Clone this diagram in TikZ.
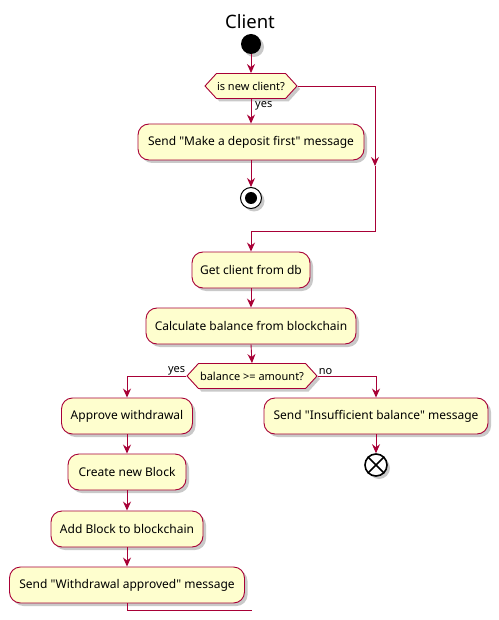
\documentclass[tikz,border=0pt]{standalone}
\usepackage{fontspec}
\setmainfont{Noto Sans}[Ligatures=TeXOff]
\usetikzlibrary{shapes.symbols,shadows,arrows.meta}
\definecolor{umlred}{HTML}{A80036}
\definecolor{umlfill}{HTML}{FEFECE}
\newcommand{\dq}{\char34\relax}
\tikzset{
  shd/.style={drop shadow={shadow xshift=3pt,shadow yshift=-3pt,opacity=0.3,fill=black!70}},
  act/.style={draw=umlred,fill=umlfill,line width=0.9pt,rounded corners=11pt,shd,
    minimum height=36pt,inner xsep=0pt,font=\fontsize{12}{14}\selectfont,text=black},
  dec/.style={signal,signal to=west and east,signal pointer angle=95,draw=umlred,fill=umlfill,
    line width=0.9pt,shd,minimum height=25pt,inner sep=0pt,font=\fontsize{11}{13}\selectfont},
  arr/.style={draw=umlred,line width=0.9pt,-{Stealth[length=9pt,width=8pt,inset=3pt]}},
  ln/.style={draw=umlred,line width=0.9pt},
  lbl/.style={font=\fontsize{11}{13}\selectfont,inner sep=1pt},
}
\begin{document}
\begin{tikzpicture}[x=1pt,y=-1pt]
\useasboundingbox (0,0) rectangle (498,620);
\node[font=\fontsize{18.5}{20}\selectfont] (title) at (250,22) {Client};
\node[circle,fill=black,minimum size=20pt,inner sep=0pt,shd] (start) at (251,44) {};
\node[dec,minimum width=92pt] (d1) at (251,86) {is new client?};
\node[act,minimum width=226pt] (b1) at (251,142) {Send \dq Make a deposit first\dq{} message};
\node[circle,draw=black,fill=white,line width=1pt,minimum size=21pt,inner sep=0pt,shd] (stop) at (251,198) {};
\fill (stop.center) circle (6pt);
\node[act,minimum width=118pt] (b2) at (251,270) {Get client from db};
\node[act,minimum width=210pt] (b3) at (251,326) {Calculate balance from blockchain};
\node[dec,minimum width=130pt] (d2) at (252,376) {balance >= amount?};
\node[act,minimum width=131pt] (a1) at (127,416) {Approve withdrawal};
\node[act,minimum width=118pt] (a2) at (127,472) {Create new Block};
\node[act,minimum width=152pt] (a3) at (127,529) {Add Block to blockchain};
\node[act,minimum width=235pt] (a4) at (127,585) {Send \dq Withdrawal approved\dq{} message};
\node[act,minimum width=224pt] (i1) at (376,416) {Send \dq Insufficient balance\dq{} message};
\node[circle,draw=black,fill=white,line width=1.6pt,minimum size=22pt,inner sep=0pt,shd] (endx) at (376,465) {};
\draw[line width=1.6pt] (endx.north east) -- (endx.south west) (endx.north west) -- (endx.south east);
\coordinate (m1) at (375,166);
\coordinate (j1) at (375,231);
\coordinate (j2) at (251,231);
\coordinate (e1) at (127,610);
\coordinate (e2) at (252,610);
\path[arr] (start) -- (d1.north);
\path[arr] (d1.south) -- (b1.north);
\node[lbl,anchor=west] (yes1) at (254,106) {yes};
\path[arr] (b1.south) -- (stop.north);
\path[arr] (d1.east) -| (m1);
\path[ln] (m1) -- (j1) -- (j2);
\path[arr] (j2) -- (b2.north);
\path[arr] (b2.south) -- (b3.north);
\path[arr] (b3.south) -- (d2.north);
\path[arr] (d2.west) -| (a1.north);
\node[lbl,anchor=south east] (yes2) at (d2.west) {yes};
\path[arr] (d2.east) -| (i1.north);
\node[lbl,anchor=south west] (no2) at (d2.east) {no};
\path[arr] (i1.south) -- (endx.north);
\path[arr] (a1.south) -- (a2.north);
\path[arr] (a2.south) -- (a3.north);
\path[arr] (a3.south) -- (a4.north);
\path[ln] (a4.south) -- (e1) -- (e2);
\end{tikzpicture}
\end{document}
